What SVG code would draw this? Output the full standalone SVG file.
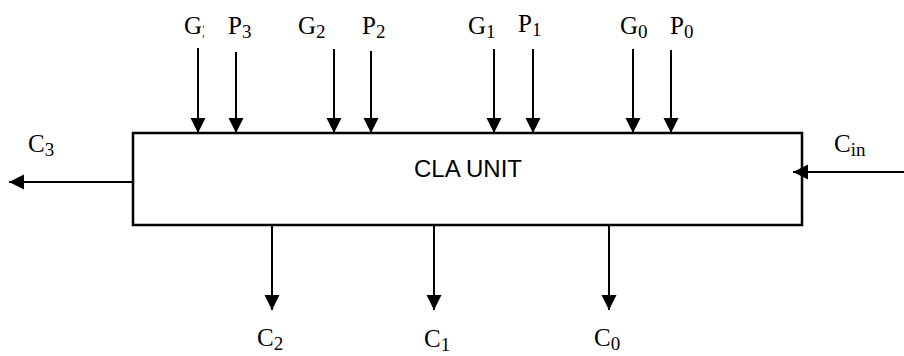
<svg xmlns="http://www.w3.org/2000/svg" width="904" height="356" viewBox="0 0 904 356">
<style>
.lbl{font-family:"Liberation Serif","Times New Roman",serif;font-size:25px;fill:#000}
.sub{font-size:19px}
.wire{stroke:#000;stroke-width:2;fill:none}
.box{stroke:#000;stroke-width:2.5;fill:#fff}
.title{font-family:"Liberation Sans",Arial,sans-serif;font-size:24px;fill:#000}
</style>
<defs>
<marker id="ah" markerUnits="userSpaceOnUse" markerWidth="16" markerHeight="16" viewBox="0 0 16 16" refX="15" refY="8" orient="auto">
<path d="M0,0.5 L15,8 L0,15.5 Z" fill="#000"/>
</marker>
<clipPath id="g3clip"><rect x="150" y="0" width="54" height="60"/></clipPath>
</defs>
<g id="cla-unit">
<rect class="box" x="133" y="133" width="669" height="92"/>
<text class="title" x="468" y="177" text-anchor="middle">CLA UNIT</text>
</g>
<g id="connectors">
<line class="wire" x1="198" y1="48" x2="198" y2="133" marker-end="url(#ah)"/>
<line class="wire" x1="236" y1="52" x2="236" y2="133" marker-end="url(#ah)"/>
<line class="wire" x1="334" y1="49" x2="334" y2="133" marker-end="url(#ah)"/>
<line class="wire" x1="371" y1="51" x2="371" y2="133" marker-end="url(#ah)"/>
<line class="wire" x1="494" y1="49" x2="494" y2="133" marker-end="url(#ah)"/>
<line class="wire" x1="533" y1="49" x2="533" y2="133" marker-end="url(#ah)"/>
<line class="wire" x1="633" y1="49" x2="633" y2="133" marker-end="url(#ah)"/>
<line class="wire" x1="671" y1="50" x2="671" y2="133" marker-end="url(#ah)"/>
<line class="wire" x1="133" y1="182" x2="9" y2="182" marker-end="url(#ah)"/>
<line class="wire" x1="904" y1="172" x2="793" y2="172" marker-end="url(#ah)"/>
<line class="wire" x1="272" y1="225" x2="272" y2="310" marker-end="url(#ah)"/>
<line class="wire" x1="434" y1="225" x2="434" y2="310" marker-end="url(#ah)"/>
<line class="wire" x1="609" y1="225" x2="609" y2="310" marker-end="url(#ah)"/>
</g>
<g id="labels">
<text class="lbl" x="184" y="34" clip-path="url(#g3clip)">G<tspan class="sub" dy="4">3</tspan></text>
<text class="lbl" x="228" y="34">P<tspan class="sub" dy="4">3</tspan></text>
<text class="lbl" x="298" y="34">G<tspan class="sub" dy="4">2</tspan></text>
<text class="lbl" x="362" y="34">P<tspan class="sub" dy="4">2</tspan></text>
<text class="lbl" x="468" y="34">G<tspan class="sub" dy="4">1</tspan></text>
<text class="lbl" x="518" y="32">P<tspan class="sub" dy="4">1</tspan></text>
<text class="lbl" x="620" y="34">G<tspan class="sub" dy="4">0</tspan></text>
<text class="lbl" x="670" y="34">P<tspan class="sub" dy="4">0</tspan></text>
<text class="lbl" x="28" y="152">C<tspan class="sub" dy="4">3</tspan></text>
<text class="lbl" x="834" y="152">C<tspan class="sub" dy="4">in</tspan></text>
<text class="lbl" x="257" y="346">C<tspan class="sub" dy="4">2</tspan></text>
<text class="lbl" x="424" y="347">C<tspan class="sub" dy="4">1</tspan></text>
<text class="lbl" x="594" y="346">C<tspan class="sub" dy="4">0</tspan></text>
</g>
</svg>
